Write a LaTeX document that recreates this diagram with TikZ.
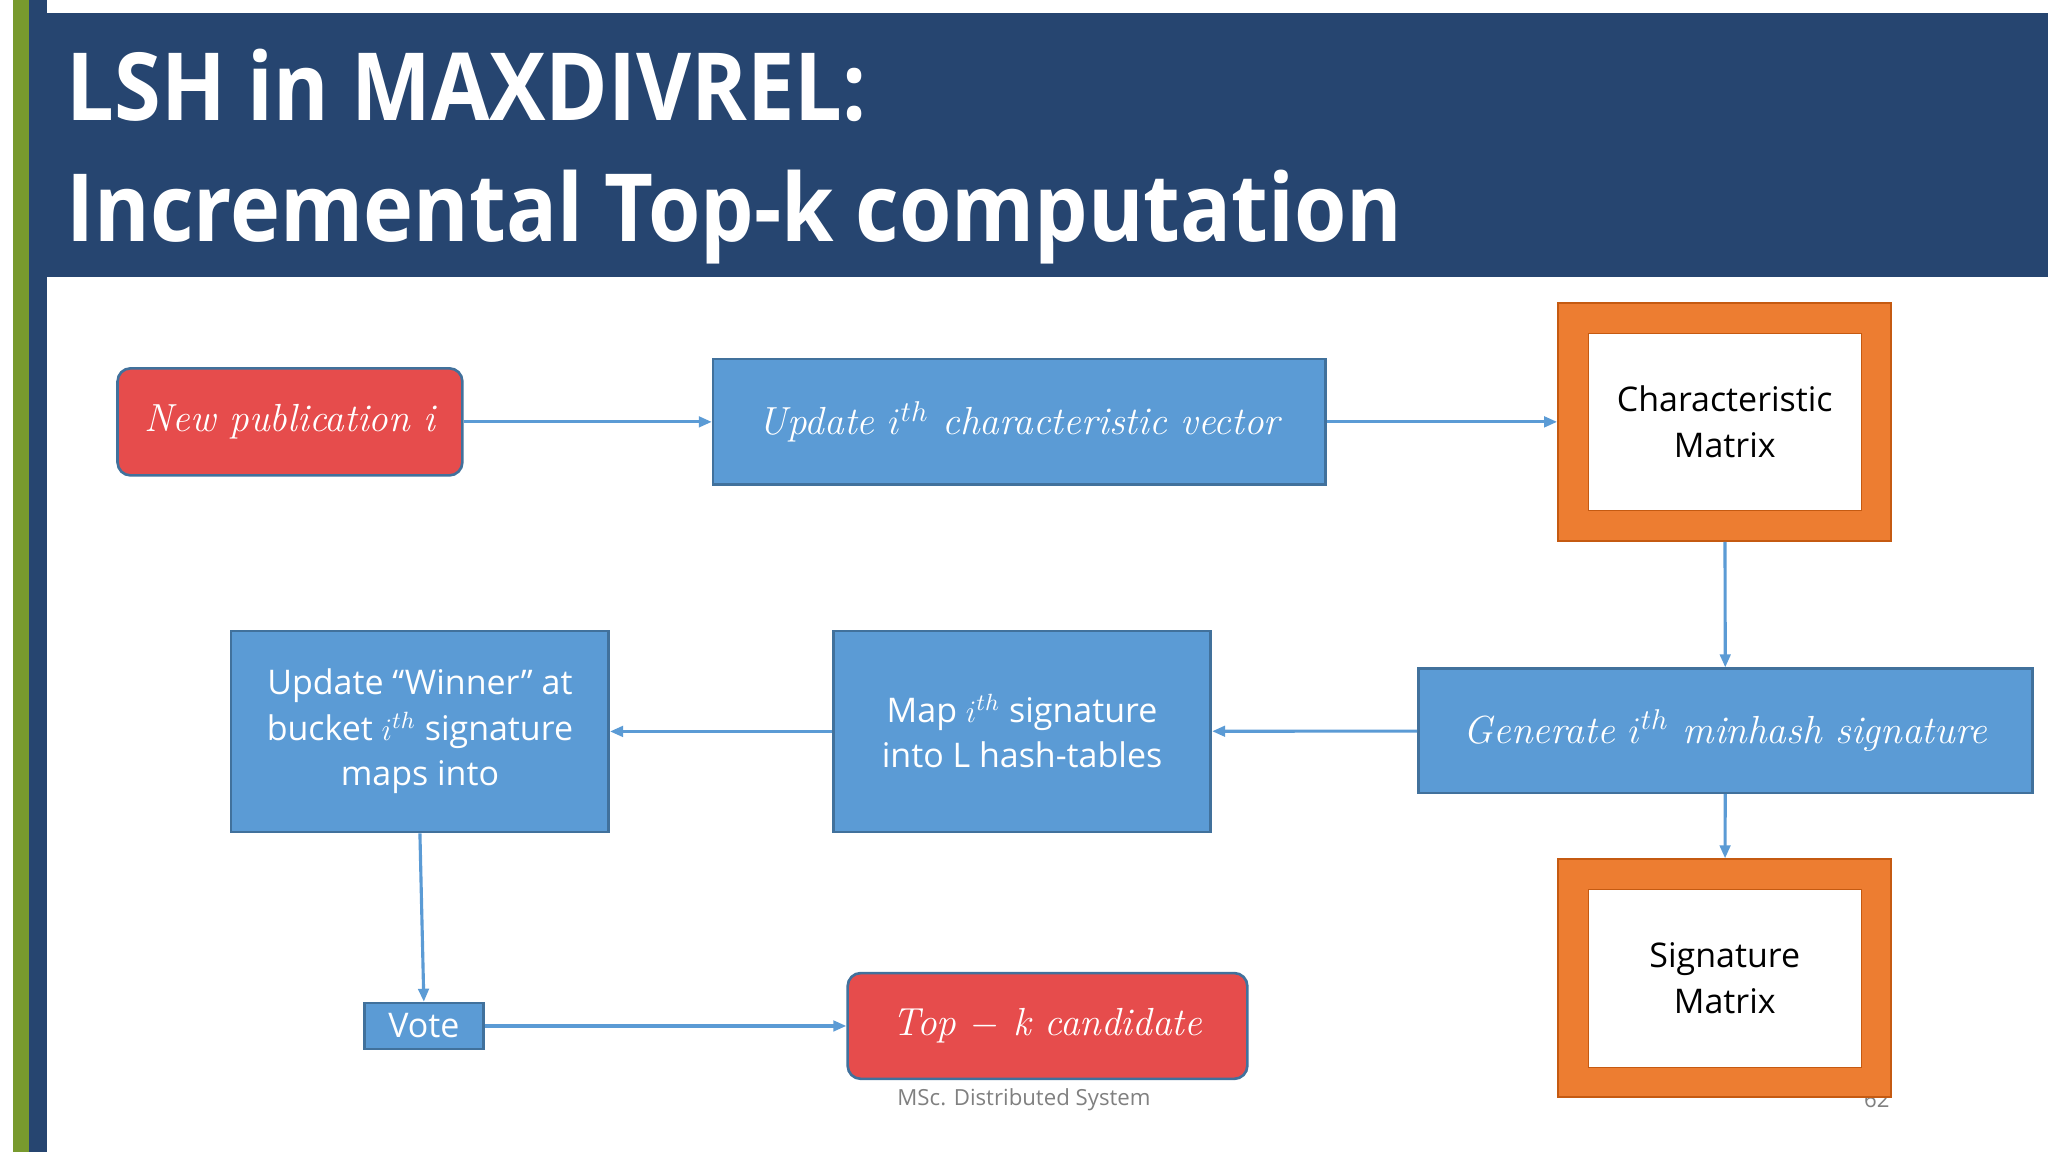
\documentclass[tikz,border=0pt]{standalone}
\usepackage{fontspec}
\setmainfont{Open Sans}
\usetikzlibrary{arrows.meta}
\definecolor{navy}{HTML}{264570}
\definecolor{lgreen}{HTML}{789A2E}
\definecolor{bfill}{HTML}{5B9BD5}
\definecolor{bdraw}{HTML}{41719C}
\definecolor{rfill}{HTML}{E64C4C}
\definecolor{ofill}{HTML}{ED7D31}
\definecolor{odraw}{HTML}{C55A11}
\newfontfamily\lmfont{Latin Modern Roman}
\newfontfamily\titlefont[FakeStretch=0.9]{Open Sans}
\tikzset{
 px/.style={x=0.5pt,y=-0.5pt},
 bluebox/.style={draw=bdraw,fill=bfill,line width=1pt,text=white,align=center,font=\fontsize{13}{17.5}\selectfont},
 redbox/.style={draw=bdraw,fill=rfill,line width=1pt,rounded corners=5pt,text=white,font=\fontsize{15}{18}\selectfont\lmfont\itshape},
 conn/.style={draw=bfill,line width=1.2pt,-{Triangle[length=5pt,width=4pt]}},
 titletext/.style={anchor=base west,text=white,font=\fontsize{36}{40}\selectfont\titlefont\bfseries},
}
\begin{document}
\begin{tikzpicture}[px]
\useasboundingbox (0,0) rectangle (1568,882);
\fill[white] (0,0) rectangle (1568,882);
\fill[lgreen] (10,0) rectangle (22,882);
\fill[navy] (22,0) rectangle (36,882);
\fill[navy] (36,10) rectangle (1568,212);
\node[titletext] (t1) at (44,92) {LSH in MAXDIVREL:};
\node[titletext] (t2) at (44,185) {Incremental Top-k computation};
\node[text=gray,font=\fontsize{8.5}{10}\selectfont] (pg) at (1437,842) {62};
\node[text=gray,font=\fontsize{8.5}{10}\selectfont] (ft) at (784,842) {MSc. Distributed System};
% boxes
\node[redbox,minimum width=132pt,minimum height=41pt] (np) at (222,323) {New publication i};
\node[bluebox,minimum width=234.5pt,minimum height=48pt,font=\fontsize{15}{18}\selectfont\lmfont\itshape] (uv) at (780.5,323) {Update $i^{th}$ characteristic vector};
\node[draw=odraw,fill=ofill,minimum width=127.5pt,minimum height=91pt,line width=0.8pt] (cmo) at (1320.5,323) {};
\node[draw=odraw,fill=white,minimum width=104.5pt,minimum height=68pt,align=center,font=\fontsize{13}{17.5}\selectfont] (cm) at (1320.5,323) {Characteristic\\Matrix};
\node[bluebox,minimum width=235pt,minimum height=47.5pt,font=\fontsize{15}{18}\selectfont\lmfont\itshape] (gs) at (1321,559.5) {Generate $i^{th}$ minhash signature};
\node[bluebox,minimum width=144.5pt,minimum height=77pt] (mp) at (782.5,560) {Map $i^{th}$ signature\\into L hash-tables};
\node[bluebox,minimum width=144.5pt,minimum height=77pt] (uw) at (321.5,560) {Update “Winner” at\\bucket $i^{th}$ signature\\maps into};
\node[draw=odraw,fill=ofill,minimum width=127.5pt,minimum height=91pt,line width=0.8pt] (smo) at (1320.5,749) {};
\node[draw=odraw,fill=white,minimum width=104.5pt,minimum height=68pt,align=center,font=\fontsize{13}{17.5}\selectfont] (sm) at (1320.5,749) {Signature\\Matrix};
\node[bluebox,minimum width=45.5pt,minimum height=17.5pt,inner sep=0pt] (vt) at (324.5,785.5) {Vote};
\node[redbox,minimum width=153pt,minimum height=40.5pt] (tk) at (802,785.5) {Top $-$ k candidate};
% connectors
\draw[conn] (np) -- (uv);
\draw[conn] (uv) -- (cmo);
\draw[conn] (cmo) -- (gs);
\draw[conn] (gs) -- (smo);
\draw[conn] (gs) -- (mp);
\draw[conn] (mp) -- (uw);
\draw[conn] (uw.south) -- (vt.north);
\draw[conn] (vt) -- (tk);
\end{tikzpicture}
\end{document}
